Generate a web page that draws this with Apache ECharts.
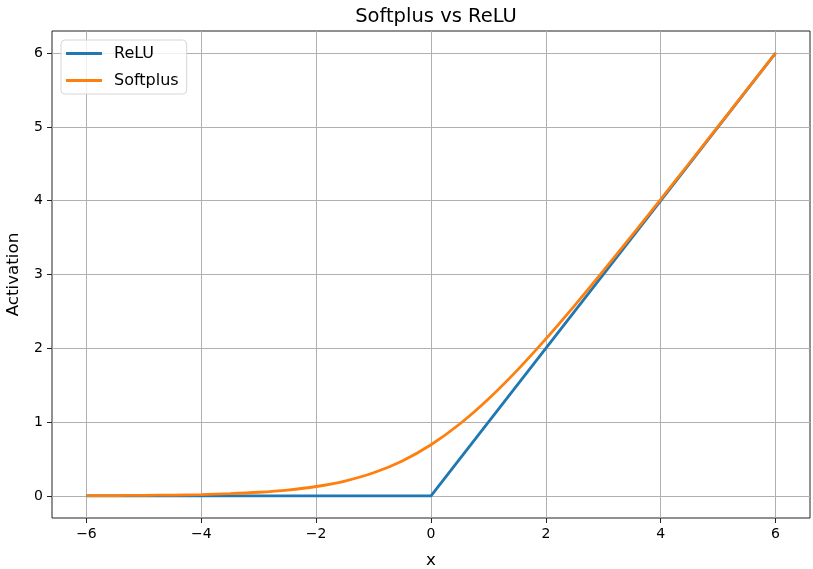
<!DOCTYPE html>
<html><head><meta charset="utf-8">
<script src="https://cdn.jsdelivr.net/npm/echarts@6/dist/echarts.min.js"></script>
<style>html,body{margin:0;padding:0;background:#fff}#c{width:813px;height:569px}</style>
</head><body><div id="c"></div>
<script>
const xs = [-6,-5.5,-5,-4.5,-4,-3.5,-3,-2.5,-2,-1.5,-1,-0.5,0,0.5,1,1.5,2,2.5,3,3.5,4,4.5,5,5.5,6];
const softplus = [0.002,0.004,0.007,0.011,0.018,0.030,0.049,0.079,0.127,0.201,0.313,0.474,0.693,0.974,1.313,1.701,2.127,2.579,3.049,3.530,4.018,4.511,5.007,5.504,6.002];
const reluX = [-6,0,6];
const reluY = [0,0,6];
const xTicks = [-6,-4,-2,0,2,4,6];
const yTicks = [0,1,2,3,4,5,6];

const fmt = v => (v < 0 ? '\u2212' + Math.abs(v) : String(v));
const font = 'DejaVu Sans';
const chart = echarts.init(document.getElementById('c'));
chart.setOption({
  animation: false,
  textStyle: {fontFamily: font},
  title: {text: 'Softplus vs ReLU', left: 431, top: 2, textAlign: 'center',
    textStyle: {fontFamily: font, fontSize: 19.5, fontWeight: 'normal', color: '#000'}},
  grid: {left: 52, right: 3, top: 31, bottom: 51, containLabel: false, outerBoundsMode: 'none',
    show: true, borderColor: '#222', borderWidth: 1, backgroundColor: 'transparent'},
  legend: {orient: 'vertical', left: 61, top: 40, itemWidth: 36, itemHeight: 3, itemGap: 10,
    padding: [5, 8, 5, 5], borderColor: '#d6d6d6', borderWidth: 1, borderRadius: 4,
    backgroundColor: 'rgba(255,255,255,0.8)',
    textStyle: {fontFamily: font, fontSize: 16, color: '#000', lineHeight: 17, padding: [0, 0, 0, 7]},
    data: [{name: 'ReLU', icon: 'rect'}, {name: 'Softplus', icon: 'rect'}]},
  xAxis: {type: 'value', min: -6.6, max: 6.6, name: 'x', nameLocation: 'middle', nameGap: 34,
    nameTextStyle: {fontFamily: font, fontSize: 16.7, color: '#000'},
    axisLine: {show: false, onZero: false},
    axisTick: {show: true, customValues: xTicks, length: 5, lineStyle: {color: '#222', width: 1}},
    axisLabel: {customValues: xTicks, formatter: fmt, fontFamily: font, fontSize: 14, color: '#000', margin: 9},
    splitLine: {show: true, lineStyle: {color: '#b0b0b0', width: 1}}},
  yAxis: {type: 'value', min: -0.3, max: 6.3, name: 'Activation', nameLocation: 'middle', nameGap: 30,
    nameTextStyle: {fontFamily: font, fontSize: 16.7, color: '#000'},
    axisLine: {show: false, onZero: false},
    axisTick: {show: true, customValues: yTicks, length: 5, lineStyle: {color: '#222', width: 1}},
    axisLabel: {customValues: yTicks, formatter: fmt, fontFamily: font, fontSize: 14, color: '#000', margin: 9},
    splitLine: {show: true, lineStyle: {color: '#b0b0b0', width: 1}}},
  series: [
    {name: 'ReLU', type: 'line', data: reluX.map((x, i) => [x, reluY[i]]), showSymbol: false,
      lineStyle: {color: '#1f77b4', width: 2.8}, itemStyle: {color: '#1f77b4'}, z: 2},
    {name: 'Softplus', type: 'line', data: xs.map((x, i) => [x, softplus[i]]), showSymbol: false, smooth: 0.3,
      lineStyle: {color: '#ff7f0e', width: 2.8}, itemStyle: {color: '#ff7f0e'}, z: 3}
  ]
});
</script></body></html>
